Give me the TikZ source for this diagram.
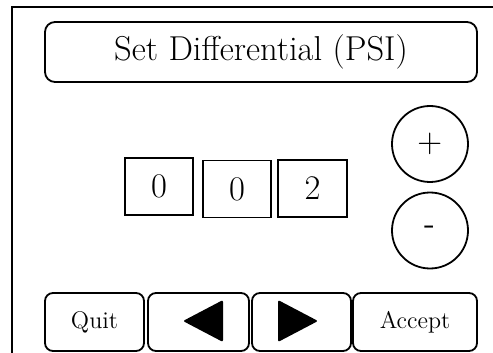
\documentclass[tikz,border=0pt]{standalone}
\usepackage{tikz}
\usetikzlibrary{positioning}

\begin{document}
\begin{tikzpicture}[
    x=0.5pt, y=-0.5pt,
    title/.style={rectangle, rounded corners=5pt, draw, line width=0.9pt, minimum width=216pt, minimum height=30pt, inner sep=0pt, font=\LARGE},
    btn/.style={rectangle, rounded corners=4pt, draw, line width=0.9pt, minimum height=29pt, inner sep=0pt, font=\large},
    digit/.style={rectangle, draw, line width=0.9pt, minimum width=34pt, minimum height=28.5pt, inner sep=0pt, font=\LARGE},
    knob/.style={circle, draw, line width=0.9pt, minimum size=38pt, inner sep=0pt, font=\LARGE\sffamily},
    tri/.style={fill=black, rounded corners=1pt}
]
\useasboundingbox (0,0) rectangle (493,353);

% Frame
\draw[line width=1pt] (12,353) -- (12,7) -- (493,7);

% Title
\node[title] (head) at (261,52) {Set Differential (PSI)};

% Value digits
\node[digit] (d1) at (159,186.5) {0};
\node[digit] (d2) at (237,189) {0};
\node[digit, minimum width=34.5pt] (d3) at (312.5,188.5) {2};

% Up / down
\node[knob] (up) at (430,144) {+};
\node[knob] (down) at (430,230.5) {-};

% Bottom row
\node[btn, minimum width=49.5pt] (quit) at (94.5,322) {Quit};
\node[btn, minimum width=50.5pt] (prev) at (198.5,322) {};
\node[btn, minimum width=49.5pt] (next) at (301.5,322) {};
\node[btn, minimum width=62pt] (accept) at (415,322) {Accept};

\fill[tri, shift={(prev.center)}] (-15.5,-1) -- (24.5,-22) -- (24.5,20) -- cycle;
\fill[tri, shift={(next.center)}] (16.5,-1) -- (-23.5,-22) -- (-23.5,20) -- cycle;

\end{tikzpicture}
\end{document}
